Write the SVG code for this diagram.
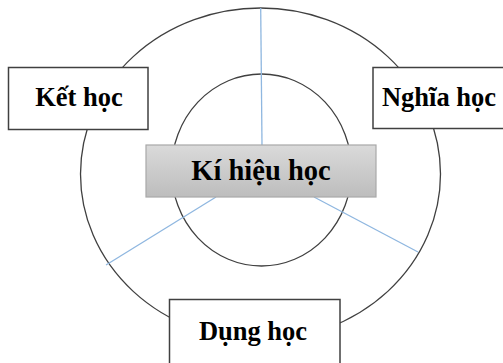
<svg xmlns="http://www.w3.org/2000/svg" width="503" height="363" viewBox="0 0 503 363">
<style>
.ring{fill:none;stroke:#404040;stroke-width:1.3}
.box{fill:#fff;stroke:#404040;stroke-width:1.5}
.lbl{font-family:"Liberation Serif","Times New Roman",serif;font-weight:bold;fill:#000;text-anchor:middle}
.conn{stroke:#8fb7e0;stroke-width:1.3;fill:none}
</style>
<defs>
<linearGradient id="g" x1="0" y1="0" x2="0" y2="1">
<stop offset="0" stop-color="#dadada"/>
<stop offset="1" stop-color="#bdbdbd"/>
</linearGradient>
</defs>
<rect width="503" height="363" fill="#fff"/>
<g id="rings">
<ellipse class="ring" cx="260.5" cy="174" rx="180" ry="166"/>
<ellipse class="ring" cx="261.5" cy="170" rx="90" ry="96"/>
</g>
<g id="connectors">
<line class="conn" x1="260.7" y1="8" x2="262" y2="145"/>
<line class="conn" x1="216" y1="197" x2="106" y2="265"/>
<line class="conn" x1="314" y1="197" x2="418" y2="252"/>
</g>
<g id="ket-hoc">
<rect class="box" x="8.5" y="67.5" width="139.5" height="62"/>
<text class="lbl" x="79" y="106" font-size="26.5">Kết học</text>
</g>
<g id="nghia-hoc">
<rect class="box" x="373" y="67.5" width="135" height="61"/>
<text class="lbl" x="439" y="106" font-size="26.5">Nghĩa học</text>
</g>
<g id="dung-hoc">
<rect class="box" x="169.5" y="299.5" width="170.5" height="70"/>
<text class="lbl" x="253" y="340" font-size="26.5">Dụng học</text>
</g>
<g id="ki-hieu-hoc">
<rect x="146" y="145" width="230" height="52" fill="url(#g)" stroke="#a8a8a8" stroke-width="1.2"/>
<text class="lbl" x="261" y="180" font-size="28.5">Kí hiệu học</text>
</g>
</svg>
